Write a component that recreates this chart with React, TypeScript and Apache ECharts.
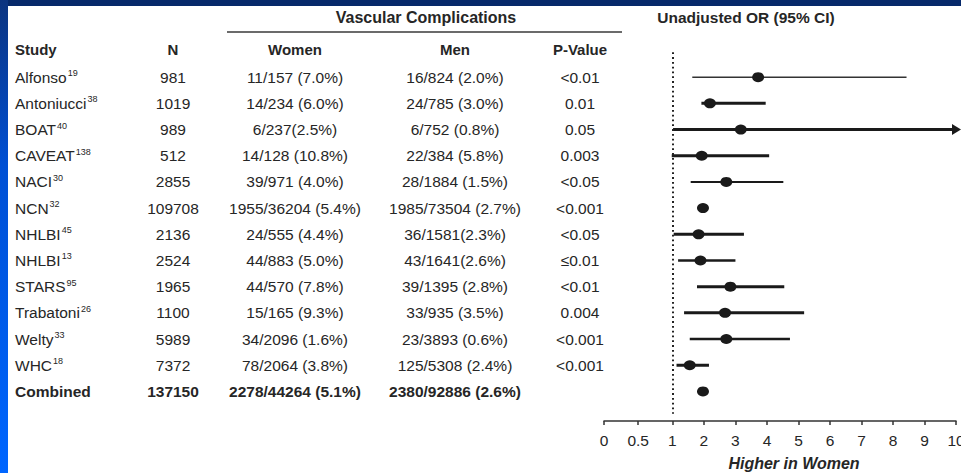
import React, { useEffect, useRef } from "react";
import * as echarts from "echarts";

// ---------------- data ----------------
const studies = ["Alfonso", "Antoniucci", "BOAT", "CAVEAT", "NACI", "NCN", "NHLBI", "NHLBI", "STARS", "Trabatoni", "Welty", "WHC", "Combined"];
const studyRefs = ["19", "38", "40", "138", "30", "32", "45", "13", "95", "26", "33", "18", ""];
const nTotals = ["981", "1019", "989", "512", "2855", "109708", "2136", "2524", "1965", "1100", "5989", "7372", "137150"];
const womenEvents = ["11/157 (7.0%)", "14/234 (6.0%)", "6/237(2.5%)", "14/128 (10.8%)", "39/971 (4.0%)", "1955/36204 (5.4%)", "24/555 (4.4%)", "44/883 (5.0%)", "44/570 (7.8%)", "15/165 (9.3%)", "34/2096 (1.6%)", "78/2064 (3.8%)", "2278/44264 (5.1%)"];
const menEvents = ["16/824 (2.0%)", "24/785 (3.0%)", "6/752 (0.8%)", "22/384 (5.8%)", "28/1884 (1.5%)", "1985/73504 (2.7%)", "36/1581(2.3%)", "43/1641(2.6%)", "39/1395 (2.8%)", "33/935 (3.5%)", "23/3893 (0.6%)", "125/5308 (2.4%)", "2380/92886 (2.6%)"];
const pValues = ["<0.01", "0.01", "0.05", "0.003", "<0.05", "<0.001", "<0.05", "≤0.01", "<0.01", "0.004", "<0.001", "<0.001", ""];
const oddsRatios = [3.72, 2.19, 3.17, 1.93, 2.71, 1.97, 1.83, 1.89, 2.84, 2.67, 2.71, 1.55, 1.97];
const ciLower = [1.63, 1.92, 1.02, 0.99, 1.58, 1.88, 1.04, 1.18, 1.78, 1.37, 1.55, 1.13, 1.88];
// null = upper limit beyond the axis (drawn as an arrow)
const ciUpper: (number | null)[] = [8.43, 3.96, null, 4.07, 4.52, 2.07, 3.27, 3.0, 4.55, 5.18, 4.73, 2.16, 2.07];
const axisTickValues = [0, 0.5, 1, 2, 3, 4, 5, 6, 7, 8, 9, 10];
const columnHeaders = ["Study", "N", "Women", "Men", "P-Value"];
const referenceOR = 1;

// ---------------- styles ----------------
const ciLineWidths = [1.4, 3, 3, 3, 2, 0, 3, 2.5, 3, 3, 2.5, 3, 0];
const FONT = '"Liberation Sans", Arial, Helvetica, sans-serif';
const TEXT = "#262626";
const INK = "#1a1a1a";
const BODY_SIZE = 15.5;
const columns = [
  { x: 15, align: "left" },
  { x: 173, align: "center" },
  { x: 295, align: "center" },
  { x: 455, align: "center" },
  { x: 580, align: "center" },
];

// axis scale: [0,1] is stretched relative to [1,10]
const LOW_SPAN = 68.4 / 31.5;
const toAxis = (v: number) => (v <= 1 ? v * LOW_SPAN : LOW_SPAN + (v - 1));

export default function App() {
  const ref = useRef<HTMLDivElement>(null);

  useEffect(() => {
    document.body.style.margin = "0";
    const chart = echarts.init(ref.current!, null, { renderer: "svg" });
    const nRows = studies.length;
    const lastRow = nRows - 1;

    const cells: { c: number; r: number; text: string; bold: boolean }[] = [];
    for (let r = 0; r < nRows; r++) {
      const bold = r === lastRow;
      const name = studyRefs[r] ? `{n|${studies[r]}}{s|${studyRefs[r]}}` : `{n|${studies[r]}}`;
      const row = [name, nTotals[r], womenEvents[r], menEvents[r], pValues[r]];
      row.forEach((t, c) => {
        if (c === 0) cells.push({ c, r, text: t, bold });
        else cells.push({ c, r, text: `{n|${t}}`, bold });
      });
    }

    const tickLabel = (val: number) => {
      const v = axisTickValues.find((x) => Math.abs(toAxis(x) - val) < 1e-6);
      return v === undefined ? "" : String(v);
    };

    const headerText = (text: string, x: number, y: number, align: string, size = 15, extra: any = {}) => ({
      type: "text",
      x,
      y,
      style: {
        text,
        fill: TEXT,
        font: `bold ${size}px ${FONT}`,
        align,
        verticalAlign: "middle",
        ...extra,
      },
    });

    chart.setOption({
      animation: false,
      backgroundColor: "#ffffff",
      grid: [
        { left: 0, right: 0, top: 51, height: 370, outerBoundsMode: "none", containLabel: false },
        { left: 604, width: 352, top: 51, height: 370, outerBoundsMode: "none", containLabel: false },
      ],
      xAxis: [
        { gridIndex: 0, type: "value", min: 0, max: 961, show: false },
        {
          gridIndex: 1,
          type: "value",
          min: 0,
          max: toAxis(10),
          axisLine: { show: true, onZero: false, lineStyle: { color: "#333", width: 1.5 } },
          axisTick: { show: true, length: 4, customValues: axisTickValues.map(toAxis), lineStyle: { color: "#333", width: 1.5 } },
          axisLabel: {
            customValues: axisTickValues.map(toAxis),
            formatter: tickLabel,
            color: TEXT,
            fontSize: 15.5,
            fontFamily: FONT,
            margin: 11,
            showMinLabel: true,
            showMaxLabel: true,
          },
          splitLine: { show: false },
        },
      ],
      yAxis: [
        { gridIndex: 0, type: "value", min: -1, max: 13.13, inverse: true, show: false },
        { gridIndex: 1, type: "value", min: -1, max: 13.13, inverse: true, show: false },
      ],
      graphic: [
        { type: "rect", shape: { x: 0, y: 0, width: 961, height: 6 }, style: { fill: "#06296a" }, z: 10 },
        {
          type: "rect",
          shape: { x: 0, y: 0, width: 8, height: 473 },
          style: {
            fill: new echarts.graphic.LinearGradient(0, 0, 0, 1, [
              { offset: 0, color: "#0c347f" },
              { offset: 0.35, color: "#0050d4" },
              { offset: 1, color: "#0066ff" },
            ]),
          },
          z: 10,
        },
        headerText("Vascular Complications", 426, 17, "center", 16),
        { type: "line", shape: { x1: 227, y1: 32, x2: 622, y2: 32 }, style: { stroke: "#3a3a3a", lineWidth: 1.3 } },
        headerText("Unadjusted OR (95% CI)", 746, 17, "center", 15.5),
        ...columnHeaders.map((h, i) => headerText(h, columns[i].x, 49, columns[i].align)),
        headerText("Higher in Women", 794, 463, "center", 16, { font: `italic bold 16px ${FONT}` }),
      ],
      series: [
        {
          type: "custom",
          xAxisIndex: 0,
          yAxisIndex: 0,
          silent: true,
          data: cells.map((d) => [d.c, d.r]),
          renderItem: (params: any, api: any) => {
            const cell = cells[params.dataIndex];
            const pt = api.coord([columns[cell.c].x, cell.r]);
            const weight = cell.bold ? "bold" : "normal";
            return {
              type: "text",
              x: pt[0],
              y: pt[1],
              style: {
                text: cell.text,
                align: columns[cell.c].align,
                verticalAlign: "middle",
                fill: TEXT,
                rich: {
                  n: { fontSize: BODY_SIZE, fontFamily: FONT, fontWeight: weight, color: TEXT, lineHeight: 17 },
                  s: { fontSize: 9, fontFamily: FONT, color: TEXT, verticalAlign: "top", lineHeight: 10, padding: [0, 0, 0, 1] },
                },
              },
            };
          },
        },
        {
          type: "custom",
          xAxisIndex: 1,
          yAxisIndex: 1,
          silent: true,
          clip: false,
          z: 2,
          data: oddsRatios.map((_, i) => [ciLower[i], ciUpper[i] === null ? -1 : ciUpper[i], i]),
          renderItem: (params: any, api: any) => {
            const i = params.dataIndex;
            const w = ciLineWidths[i];
            if (!w) return { type: "group", children: [] };
            const p0 = api.coord([toAxis(ciLower[i]), i]);
            const hi = ciUpper[i];
            const children: any[] = [];
            if (hi === null) {
              const tip = api.coord([toAxis(10), i]);
              const tipX = tip[0] + 5;
              children.push({
                type: "line",
                shape: { x1: p0[0], y1: p0[1], x2: tipX - 6, y2: p0[1] },
                style: { stroke: INK, lineWidth: w },
              });
              children.push({
                type: "polygon",
                shape: { points: [[tipX, p0[1]], [tipX - 9, p0[1] - 5.5], [tipX - 9, p0[1] + 5.5]] },
                style: { fill: INK },
              });
            } else {
              const p1 = api.coord([toAxis(hi), i]);
              children.push({
                type: "line",
                shape: { x1: p0[0], y1: p0[1], x2: p1[0], y2: p1[1] },
                style: { stroke: w < 2 ? "#333" : INK, lineWidth: w },
              });
            }
            return { type: "group", children };
          },
        },
        {
          type: "scatter",
          xAxisIndex: 1,
          yAxisIndex: 1,
          silent: true,
          z: 3,
          symbol: "circle",
          symbolSize: [12, 10],
          itemStyle: { color: INK, opacity: 1 },
          data: oddsRatios.map((v, i) => [toAxis(v), i]),
          markLine: {
            silent: true,
            symbol: "none",
            label: { show: false },
            lineStyle: { color: "#222", width: 2, type: [1.8, 3] },
            data: [[{ coord: [toAxis(referenceOR), -0.95] }, { coord: [toAxis(referenceOR), 12.85] }]],
          },
        },
      ],
    });

    return () => chart.dispose();
  }, []);

  return <div ref={ref} style={{ width: 961, height: 473 }} />;
}
